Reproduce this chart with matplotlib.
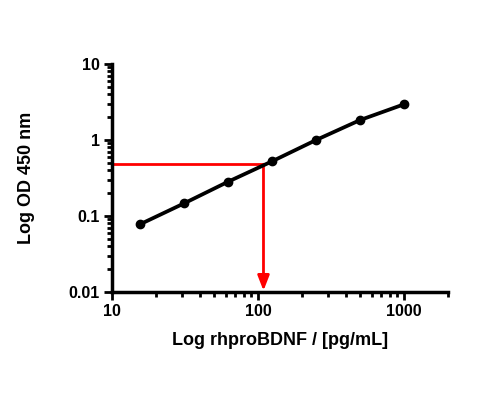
import matplotlib
matplotlib.use("Agg")
import matplotlib.pyplot as plt
from matplotlib.ticker import LogLocator, FixedLocator, NullFormatter

plt.rcParams['font.family'] = ['Liberation Sans', 'DejaVu Sans']
plt.rcParams['font.weight'] = 'bold'

# standard curve
conc = [15.6, 31.25, 62.5, 125, 250, 500, 1000]
od = [0.078, 0.147, 0.283, 0.525, 1.0, 1.83, 2.95]

# read-off lines
sample_od = 0.48
sample_conc = 109

fig = plt.figure(figsize=(5, 4), dpi=100)
ax = fig.add_axes([0.224, 0.27, 0.672, 0.57])

ax.plot(conc, od, color='black', lw=2.7, marker='o', ms=6, zorder=3)

ax.plot([10, sample_conc], [sample_od, sample_od], color='#ff0000', lw=2, zorder=2)
ax.annotate('', xy=(sample_conc, 0.0104), xytext=(sample_conc, sample_od),
            arrowprops=dict(arrowstyle='-|>,head_length=0.9,head_width=0.35',
                            color='#ff0000', lw=2, shrinkA=0, shrinkB=0),
            zorder=2)

ax.set_xscale('log')
ax.set_yscale('log')
ax.set_xlim(10, 2000)
ax.set_ylim(0.01, 10)

ax.xaxis.set_major_locator(FixedLocator([10, 100, 1000]))
ax.set_xticklabels(['10', '100', '1000'])
ax.xaxis.set_minor_locator(FixedLocator(
    [20, 30, 40, 50, 60, 70, 80, 90, 200, 300, 400, 500, 600, 700, 800, 900, 2000]))
ax.xaxis.set_minor_formatter(NullFormatter())

ax.yaxis.set_major_locator(FixedLocator([0.01, 0.1, 1, 10]))
ax.set_yticklabels(['0.01', '0.1', '1', '10'])
ax.yaxis.set_minor_locator(LogLocator(base=10, subs=range(2, 10)))
ax.yaxis.set_minor_formatter(NullFormatter())

for s in ['top', 'right']:
    ax.spines[s].set_visible(False)
for s in ['left', 'bottom']:
    ax.spines[s].set_linewidth(2.5)

ax.tick_params(which='major', length=6, width=2, labelsize=11.5, pad=3)
ax.tick_params(which='minor', length=3.5, width=2)

ax.set_xlabel('Log rhproBDNF / [pg/mL]', fontsize=13, fontweight='bold', labelpad=9)
ax.set_ylabel('Log OD 450 nm', fontsize=13, fontweight='bold', labelpad=24)

fig.savefig('out.png', dpi=100)
